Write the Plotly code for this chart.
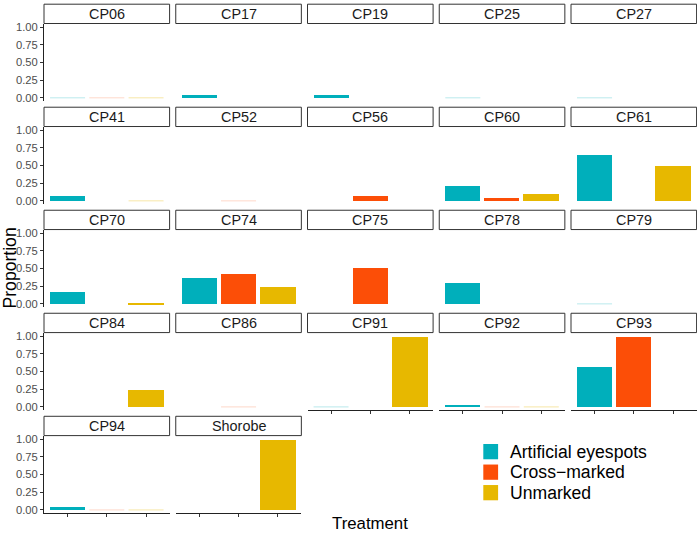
import math
import plotly.graph_objects as go

# ---------------- data ----------------
panels = ["CP06", "CP17", "CP19", "CP25", "CP27",
          "CP41", "CP52", "CP56", "CP60", "CP61",
          "CP70", "CP74", "CP75", "CP78", "CP79",
          "CP84", "CP86", "CP91", "CP92", "CP93",
          "CP94", "Shorobe"]
treatments = ["Artificial eyespots", "Cross-marked", "Unmarked"]
artificial = [0, 0.04, 0.04, 0, 0,
              0.08, None, None, 0.21, 0.66,
              0.17, 0.37, None, 0.30, 0,
              None, None, 0, 0.03, 0.57,
              0.05, None]
cross = [0, None, None, None, None,
         None, 0, 0.075, 0.05, None,
         None, 0.43, 0.51, None, None,
         None, 0, None, 0, 1.0,
         0, None]
unmarked = [0, None, None, None, None,
            0, None, None, 0.10, 0.50,
            0.02, 0.24, None, None, None,
            0.25, None, 1.0, 0, None,
            0, 1.0]
y_ticks = [0, 0.25, 0.5, 0.75, 1.0]

# ---------------- style ----------------
colors = ["#00AFBB", "#FC4E07", "#E7B800"]
faint = ["rgba(0,175,187,0.28)", "rgba(252,78,7,0.22)", "rgba(231,184,0,0.35)"]
FONT = "Liberation Sans, Arial, Helvetica, sans-serif"

W, H = 697, 533
ncol = 5
col_x0, col_pitch, panel_w = 44.0, 131.75, 125.6
row_top0, row_pitch, panel_h, strip_h = 20.7, 104.0, 78.6, 20.0

fig = go.Figure()
layout = {}
shapes = []
annotations = []
n = len(panels)
series = [artificial, cross, unmarked]

for i, name in enumerate(panels):
    r, c = divmod(i, ncol)
    k = i + 1
    xs = "x" if k == 1 else f"x{k}"
    ys = "y" if k == 1 else f"y{k}"
    vals = [s[i] for s in series]
    fig.add_trace(go.Bar(
        x=treatments, y=vals, width=0.9,
        marker=dict(color=colors, line=dict(width=0)),
        xaxis=xs, yaxis=ys, showlegend=False,
        hovertemplate="%{x}: %{y}<extra>" + name + "</extra>"))
    zx = [t for t, v in zip(treatments, vals) if v == 0]
    zc = [fc for fc, v in zip(faint, vals) if v == 0]
    if zx:
        fig.add_trace(go.Scatter(
            x=zx, y=[0] * len(zx), mode="markers",
            marker=dict(symbol="line-ew", size=25,
                        line=dict(width=1, color=zc)),
            xaxis=xs, yaxis=ys, showlegend=False, hoverinfo="skip"))

    px0 = col_x0 + c * col_pitch
    px1 = px0 + panel_w
    top = row_top0 + r * row_pitch
    bottom = top + panel_h
    is_left = (c == 0)
    is_bottom = (i + ncol >= n)

    layout["xaxis" if k == 1 else f"xaxis{k}"] = dict(
        domain=[px0 / W, px1 / W], anchor=ys, type="category",
        categoryorder="array", categoryarray=treatments,
        range=[-0.6, 2.6], showticklabels=False,
        ticks="outside" if is_bottom else "", ticklen=3, tickwidth=1,
        tickcolor="#333333", showline=is_bottom, linecolor="#222222",
        linewidth=1, showgrid=False, zeroline=False, fixedrange=True)
    layout["yaxis" if k == 1 else f"yaxis{k}"] = dict(
        domain=[1 - bottom / H, 1 - top / H], anchor=xs,
        range=[-0.05, 1.05], tickvals=y_ticks, tickformat=".2f",
        showticklabels=is_left, ticks="outside" if is_left else "",
        ticklen=3, tickwidth=1, tickcolor="#333333",
        showline=is_left, linecolor="#222222", linewidth=1,
        tickfont=dict(family=FONT, size=11.2, color="#4D4D4D"),
        showgrid=False, zeroline=False, fixedrange=True)

    # strip
    s_top = top - strip_h
    shapes.append(dict(type="rect", xref="paper", yref="paper",
                       x0=px0 / W, x1=px1 / W,
                       y0=1 - top / H, y1=1 - (s_top + 0.5) / H,
                       fillcolor="white", line=dict(color="#333333", width=1),
                       layer="below"))
    annotations.append(dict(text=name, xref="paper", yref="paper",
                            x=(px0 + px1) / 2 / W,
                            y=1 - (s_top + top) / 2 / H,
                            xanchor="center", yanchor="middle", showarrow=False,
                            font=dict(family=FONT, size=14.4, color="#1A1A1A")))

# legend (manual, built from treatments/colors)
key_x0, key_w, key_h = 483.3, 14.8, 15.4
key_y0, key_pitch = 445.2, 20.7
for j, (t, col) in enumerate(zip(treatments, colors)):
    ky = key_y0 + j * key_pitch
    shapes.append(dict(type="rect", xref="paper", yref="paper",
                       x0=key_x0 / W, x1=(key_x0 + key_w) / W,
                       y0=1 - (ky + key_h) / H, y1=1 - ky / H,
                       fillcolor=col, line=dict(width=0)))
    annotations.append(dict(text=t.replace("-", "\u2212"), xref="paper", yref="paper",
                            x=508 / W, y=1 - (ky + key_h / 2) / H,
                            xanchor="left", yanchor="middle", showarrow=False,
                            font=dict(family=FONT, size=17.6, color="black")))

# axis titles
annotations.append(dict(text="Proportion", xref="paper", yref="paper",
                        x=9.5 / W, y=1 - 267.5 / H, textangle=-90,
                        xanchor="center", yanchor="middle", showarrow=False,
                        font=dict(family=FONT, size=17.6, color="black")))
annotations.append(dict(text="Treatment", xref="paper", yref="paper",
                        x=370 / W, y=1 - 525.0 / H,
                        xanchor="center", yanchor="middle", showarrow=False,
                        font=dict(family=FONT, size=16.8, color="black")))

fig.update_layout(
    width=W, height=H, margin=dict(l=0, r=0, t=0, b=0),
    paper_bgcolor="white", plot_bgcolor="white",
    showlegend=False, shapes=shapes, annotations=annotations,
    bargap=0, **layout)

fig.write_html("out.html",
               config={"displayModeBar": False},
               post_script="document.body.style.margin='0';"
                           "document.body.style.overflow='hidden';")
